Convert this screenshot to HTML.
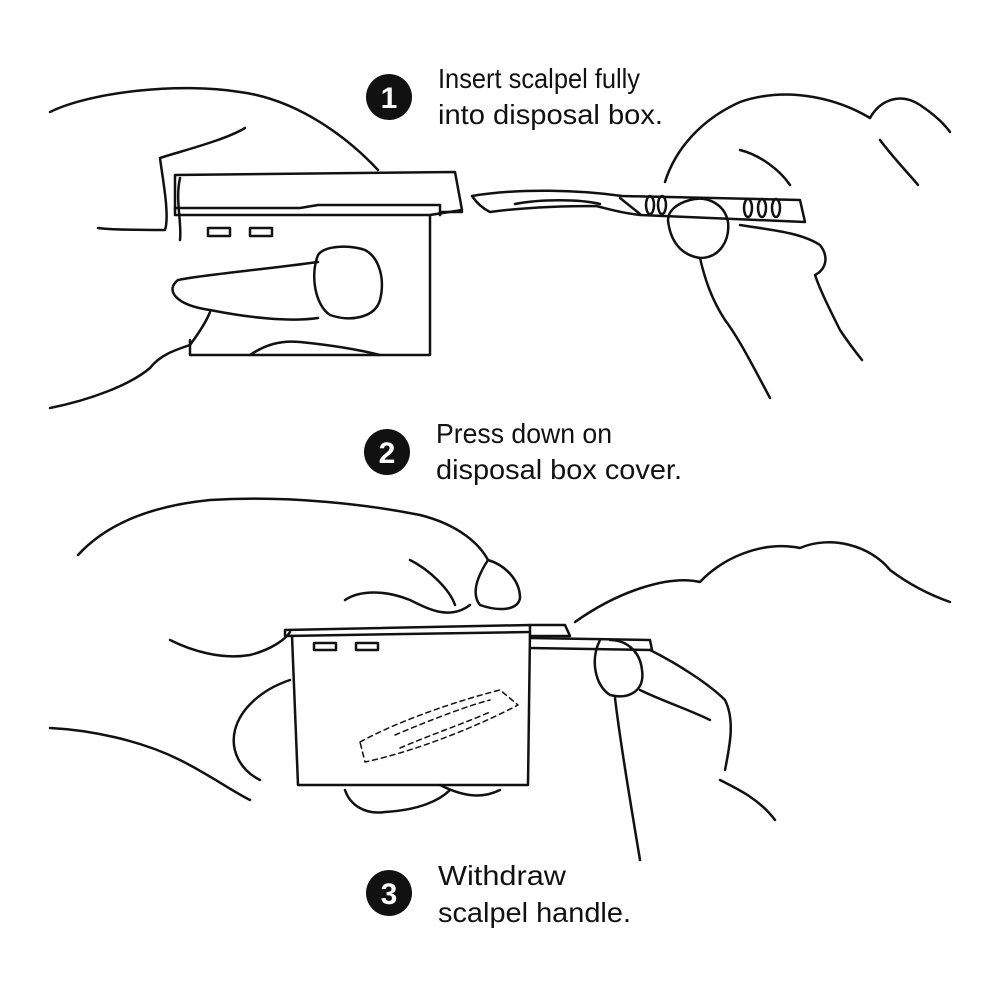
<!DOCTYPE html>
<html><head><meta charset="utf-8"><style>
html,body{margin:0;padding:0;background:#fff;}
svg{display:block;}
text{font-family:"Liberation Sans Narrow","Liberation Sans",sans-serif;font-size:28px;fill:#111;}
</style></head><body>
<svg width="1000" height="1000" viewBox="0 0 1000 1000" xmlns="http://www.w3.org/2000/svg">
<g fill="none" stroke="#111" stroke-width="2.5" stroke-linecap="round" stroke-linejoin="round">
<!-- Scene 1 left hand -->
<path d="M50,112 C90,92 180,82 240,92 C300,100 350,140 378,170"/>
<path d="M245,128 C225,140 185,150 160,158 C162,175 170,215 165,230 C140,230 110,230 98,228"/>
<path d="M180,178 C175,200 182,222 180,240"/>
<path d="M318,255 C310,275 315,305 330,315 C350,322 375,318 380,300 C385,280 380,258 365,250 C350,245 325,245 318,255 Z"/>
<path d="M318,262 C260,270 200,275 178,280 C165,290 175,305 210,310 C250,318 290,322 318,318"/>
<path d="M210,312 C205,325 195,338 190,345 C175,350 160,355 150,368 C130,385 90,400 50,408"/>
<path d="M250,355 C265,345 280,340 300,342 C330,345 360,350 380,355"/>
<!-- box 1 -->
<path d="M175,175 L455,172 L462,210 L430,215 L175,215 Z"/>
<path d="M175,208 L300,208 L318,205 L440,205 L440,215"/>
<path d="M430,215 L430,355 L190,355 L190,340"/>
<path d="M440,215 L440,212 L462,212"/>
<rect x="208" y="228" width="22" height="8"/>
<rect x="250" y="228" width="22" height="8"/>
<!-- scalpel 1 -->
<path d="M472,196 C520,188 580,190 622,196 L800,200 L805,222 L640,215 C620,213 605,208 596,206 C560,206 520,208 490,212 C482,208 476,202 472,196 Z"/>
<path d="M515,204 C540,199 580,199 600,204"/>
<path d="M620,198 L640,214"/>
<ellipse cx="650" cy="205" rx="4" ry="9"/><ellipse cx="662" cy="205" rx="4" ry="9"/>
<ellipse cx="748" cy="208" rx="4" ry="9"/><ellipse cx="762" cy="208" rx="4" ry="9"/><ellipse cx="776" cy="208" rx="4" ry="9"/>
<!-- right hand 1 -->
<path d="M665,182 C675,150 700,120 740,102 C790,85 840,100 870,118 C880,100 900,92 920,105 C935,115 945,125 950,132"/>
<path d="M880,140 C895,160 910,175 918,185"/>
<path d="M740,150 C760,155 780,170 790,185"/>
<path d="M668,220 C670,240 680,255 700,258 C720,258 730,240 728,222 C725,205 708,195 690,200 C675,204 668,212 668,220 Z"/>
<path d="M740,225 C770,230 800,232 820,245 C830,258 825,270 815,275 C820,290 830,310 840,330 C850,345 858,355 862,360"/>
<path d="M700,258 C705,280 712,300 725,320 C740,340 755,370 770,398"/>
<!-- number badges -->
</g>
<g fill="#111">
<circle cx="389" cy="97" r="23"/>
<circle cx="387" cy="452" r="23"/>
<circle cx="389" cy="893" r="23"/>
</g>
<g font-weight="bold" style="font-family:'Liberation Sans',sans-serif;font-size:30px;fill:#fff" text-anchor="middle">
<text x="389" y="108" style="fill:#fff;font-family:'Liberation Sans',sans-serif;font-weight:bold;font-size:30px">1</text>
<text x="387" y="463" style="fill:#fff;font-family:'Liberation Sans',sans-serif;font-weight:bold;font-size:30px">2</text>
<text x="389" y="904" style="fill:#fff;font-family:'Liberation Sans',sans-serif;font-weight:bold;font-size:30px">3</text>
</g>
<text x="438" y="88" textLength="202" lengthAdjust="spacingAndGlyphs">Insert scalpel fully</text>
<text x="438" y="124" textLength="225" lengthAdjust="spacingAndGlyphs">into disposal box.</text>
<text x="436" y="443" textLength="176" lengthAdjust="spacingAndGlyphs">Press down on</text>
<text x="436" y="479" textLength="246" lengthAdjust="spacingAndGlyphs">disposal box cover.</text>
<text x="438" y="885" textLength="128" lengthAdjust="spacingAndGlyphs">Withdraw</text>
<text x="438" y="922" textLength="193" lengthAdjust="spacingAndGlyphs">scalpel handle.</text>
<g fill="none" stroke="#111" stroke-width="2.5" stroke-linecap="round" stroke-linejoin="round">
<!-- Scene 2 top hand -->
<path d="M78,555 C110,520 160,505 210,500 C290,495 370,505 420,515 C460,525 480,545 488,560 C505,565 520,580 520,598 C518,610 500,612 480,605"/>
<path d="M170,640 C190,650 220,660 250,655 C270,650 285,640 290,632"/>
<path d="M345,600 C360,590 385,590 410,600 C430,610 450,620 470,605"/>
<path d="M488,560 C475,580 472,595 480,605"/>
<path d="M410,560 C430,570 450,590 455,605"/>
<!-- box 2 -->
<path d="M285,630 L530,625 L530,632 L285,636 Z"/>
<path d="M292,636 L298,785 L528,785 L530,632"/>
<path d="M530,625 L565,625 L570,636 L530,636"/>
<rect x="314" y="643" width="22" height="7"/>
<rect x="356" y="643" width="22" height="7"/>
<path d="M530,638 L650,640 L652,650 L530,648"/>
<g stroke-dasharray="5,4" stroke-width="1.5">
<path d="M360,742 C400,720 460,700 500,690 L518,705 C480,725 420,750 365,762 Z"/>
<path d="M395,735 C430,720 470,705 490,700"/>
<path d="M400,748 C430,735 460,725 490,712"/>
</g>
<!-- right hand 2 -->
<path d="M575,622 C620,590 670,575 700,582 C720,560 760,540 800,548 C830,535 870,545 890,570 C910,585 930,595 950,602"/>
<path d="M600,640 C590,660 595,685 610,695 C630,700 645,690 642,670 C640,650 625,640 610,640"/>
<path d="M650,650 C680,665 710,685 725,700 C735,720 730,745 725,770"/>
<path d="M640,690 C660,700 690,710 710,720"/>
<path d="M615,698 C620,740 630,800 640,860"/>
<path d="M720,780 C740,790 760,800 775,820"/>
<!-- bottom hand 2 -->
<path d="M50,728 C90,730 140,740 180,760 C210,775 230,790 250,800"/>
<path d="M290,680 C260,690 240,710 235,730 C230,750 240,770 260,780"/>
<path d="M345,790 C350,805 365,815 385,812 C420,810 440,800 450,790"/>
<path d="M440,785 C460,795 480,800 500,790"/>
</g>
</svg>
</body></html>
